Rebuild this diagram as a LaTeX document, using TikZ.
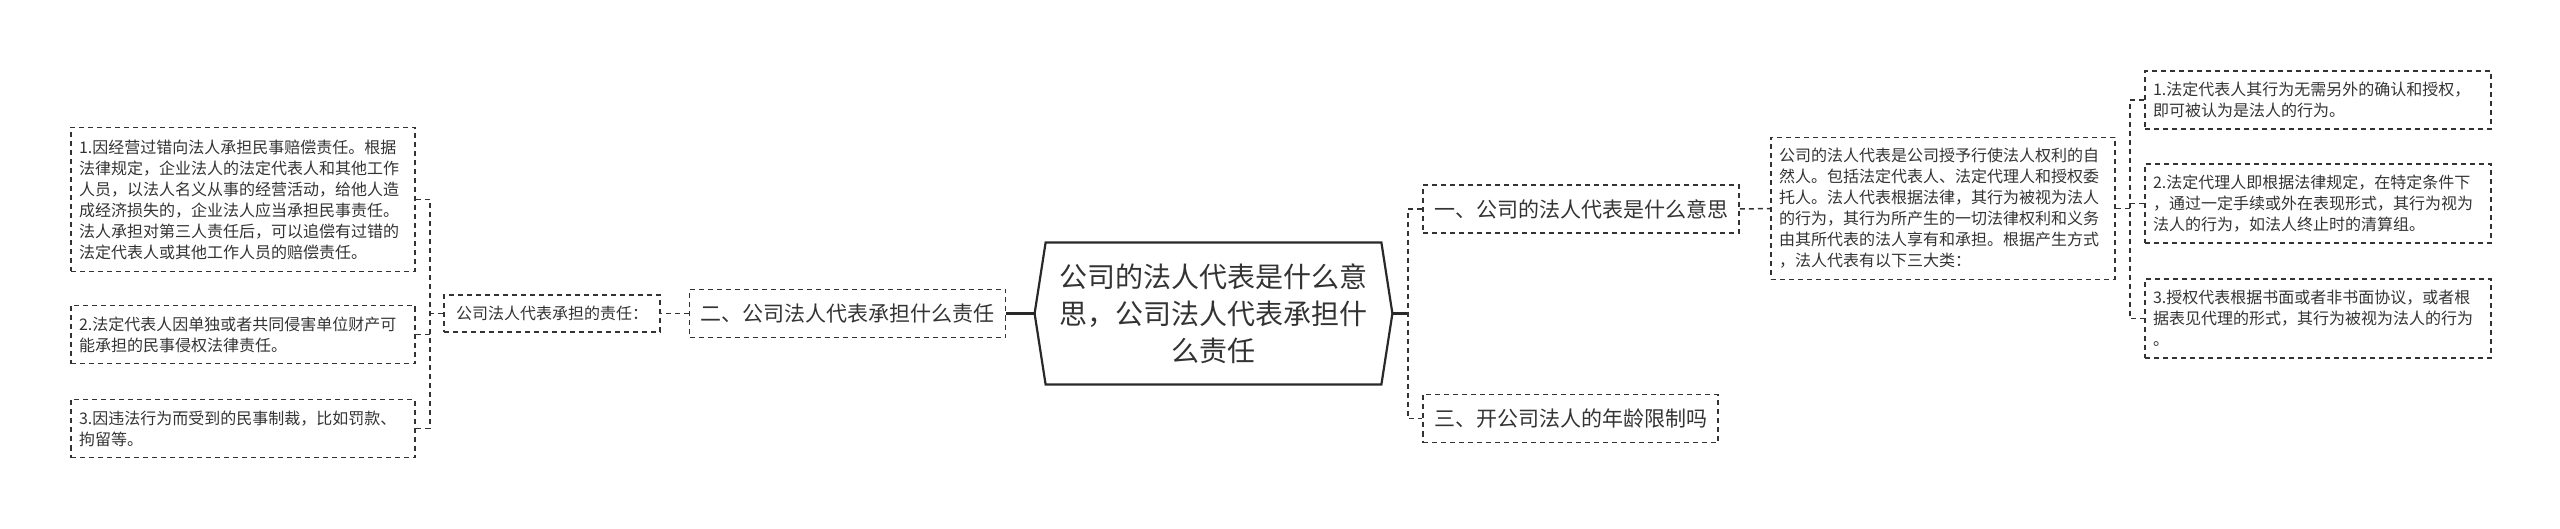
\documentclass[tikz,border=0pt]{standalone}
\usepackage{fontspec}
\setmainfont{Noto Sans CJK SC}
\definecolor{ink}{HTML}{333333}
\begin{document}
\begin{tikzpicture}[x=0.5pt,y=-0.5pt,
  every node/.style={text=ink,inner sep=0pt},
  dline/.style={draw=ink,line width=0.75pt,dash pattern=on 2.5pt off 2pt},
  sline/.style={draw=ink!80!black,line width=1.1pt},
  dbox/.style={dline,font=\fontsize{8pt}{10.5pt}\selectfont,align=left,text width=164pt,inner xsep=4pt},
  bbox/.style={dline,font=\fontsize{10.5pt}{12pt}\selectfont,inner xsep=5.5pt,minimum height=24pt}]
\useasboundingbox (0,0) rectangle (2560,529);
% centre
\node[font=\fontsize{14pt}{18.5pt}\selectfont,align=center,minimum width=167.5pt,minimum height=70.5pt] (c) at (1213.5,313.5)
  {公司的法人代表是什么意\\思，公司法人代表承担什\\么责任};
\draw[sline] (c.north west)--(c.north east)--([xshift=5.5pt]c.east)--(c.south east)--(c.south west)--([xshift=-5.5pt]c.west)--cycle;
\coordinate (hl) at ([xshift=-5.5pt]c.west); \coordinate (hr) at ([xshift=5.5pt]c.east);
% right side
\node[bbox] (n1) at (1581,209) {一、公司的法人代表是什么意思};
\node[bbox] (n3) at (1570.5,418.5) {三、开公司法人的年龄限制吗};
\node[dbox,minimum height=71pt] (d1) at (1943,208.5) {公司的法人代表是公司授予行使法人权利的自\\然人。包括法定代表人、法定代理人和授权委\\托人。法人代表根据法律，其行为被视为法人\\的行为，其行为所产生的一切法律权利和义务\\由其所代表的法人享有和承担。根据产生方式\\，法人代表有以下三大类：};
\node[dbox,text width=165pt,minimum height=29pt] (r1) at (2318,100) {1.法定代表人其行为无需另外的确认和授权，\\即可被认为是法人的行为。};
\node[dbox,text width=165pt,minimum height=39.5pt] (r2) at (2318,203.5) {2.法定代理人即根据法律规定，在特定条件下\\，通过一定手续或外在表现形式，其行为视为\\法人的行为，如法人终止时的清算组。};
\node[dbox,text width=165pt,minimum height=39.5pt] (r3) at (2318,318.5) {3.授权代表根据书面或者非书面协议，或者根\\据表见代理的形式，其行为被视为法人的行为\\。};
\coordinate (rt) at (1408,313.5); \coordinate (qt) at (2130,208.5);
\draw[sline] (hr)--(rt);
\draw[dline] (n1.west) -| (rt |- n3.west) -- (n3.west);
\draw[dline] (n1.east) -- (d1.west);
\draw[dline] (d1.east) -- (qt);
\draw[dline] (r1.west) -| (qt |- r3.west) -- (r3.west);
\draw[dline] (qt |- r2.west) -- (r2.west);
% left side
\node[bbox] (n2) at (847.5,313.5) {二、公司法人代表承担什么责任};
\node[bbox,font=\fontsize{8pt}{10.5pt}\selectfont,inner xsep=6pt,minimum height=18.5pt] (d2) at (552,313.5) {公司法人代表承担的责任：};
\node[dbox,minimum height=72pt] (l1) at (243,199.5) {1.因经营过错向法人承担民事赔偿责任。根据\\法律规定，企业法人的法定代表人和其他工作\\人员，以法人名义从事的经营活动，给他人造\\成经济损失的，企业法人应当承担民事责任。\\法人承担对第三人责任后，可以追偿有过错的\\法定代表人或其他工作人员的赔偿责任。};
\node[dbox,minimum height=29pt] (l2) at (243,334.5) {2.法定代表人因单独或者共同侵害单位财产可\\能承担的民事侵权法律责任。};
\node[dbox,minimum height=29pt] (l3) at (243,428.5) {3.因违法行为而受到的民事制裁，比如罚款、\\拘留等。};
\coordinate (lt) at (430,313.5);
\draw[sline] (hl)--(n2.east);
\draw[dline] (n2.west) -- (d2.east);
\draw[dline] (d2.west) -- (lt);
\draw[dline] (l1.east) -| (lt |- l3.east) -- (l3.east);
\draw[dline] (lt |- l2.east) -- (l2.east);
\end{tikzpicture}
\end{document}
